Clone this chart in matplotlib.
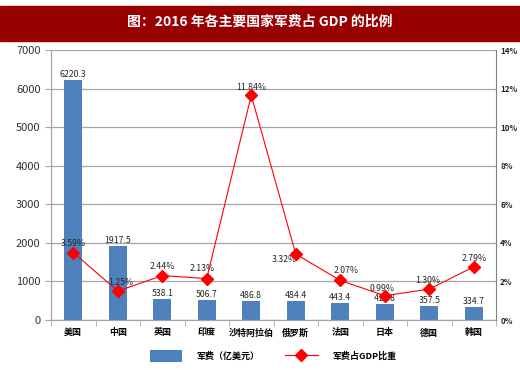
import matplotlib.pyplot as plt
import numpy as np
from matplotlib.patches import Rectangle

plt.rcParams['font.family'] = ['Noto Sans CJK SC', 'DejaVu Sans']

# data
countries = ['美国', '中国', '英国', '印度', '沙特阿拉伯', '俄罗斯', '法国', '日本', '德国', '韩国']
spending = [6220.3, 1917.5, 538.1, 506.7, 486.8, 484.4, 443.4, 416.8, 357.5, 334.7]
gdp_share = [3.50, 1.50, 2.30, 2.15, 11.65, 3.42, 2.05, 1.26, 1.60, 2.76]  # plotted marker heights (%)
gdp_labels = ['3.59%', '1.25%', '2.44%', '2.13%', '11.84%', '3.32%', '2.07%', '0.99%', '1.30%', '2.79%']
left_ticks = [0, 1000, 2000, 3000, 4000, 5000, 6000, 7000]
right_ticks = [0, 2, 4, 6, 8, 10, 12, 14]

# label offsets in pixels (dx, dy) relative to each marker
label_offsets = [(0, 9), (3, 9), (0, 9), (-5, 10), (0, 8), (-11, -5), (6, 10), (-3, 7), (-2, 9), (0, 8)]

W, H = 520, 370
fig = plt.figure(figsize=(W / 100, H / 100), dpi=100)

# title band
fig.patches.append(Rectangle((0, 1 - 41 / H), 1, 35 / H, transform=fig.transFigure,
                             color='#990000', zorder=0))
fig.text(0.5, 1 - 22 / H, '图：2016 年各主要国家军费占 GDP 的比例', color='white',
         fontsize=10, fontweight='bold', ha='center', va='center')

ax = fig.add_axes([51 / W, (H - 320) / H, 445 / W, 270 / H])
x = np.arange(len(countries))
grid_c = '#A6A6A6'

bars = ax.bar(x, spending, width=0.4, color='#4F81BD', zorder=2, label='军费（亿美元）')
for xi, v in zip(x, spending):
    ax.annotate(f'{v:.1f}', (xi, v), xytext=(0, 1), textcoords='offset pixels',
                ha='center', va='bottom', fontsize=6.3, color='#262626', zorder=5)

ax.set_xlim(-0.5, len(countries) - 0.5)
ax.set_ylim(0, 7000)
ax.set_yticks(left_ticks)
ax.set_xticks(x)
ax.set_xticklabels(countries, fontsize=6.5, fontweight='bold')
ax.set_xticks(np.arange(-0.5, len(countries), 1), minor=True)
ax.tick_params(axis='x', which='major', length=0, pad=6)
ax.tick_params(axis='x', which='minor', length=4, color=grid_c, direction='out')
ax.tick_params(axis='y', labelsize=8, colors='#333333', length=4, direction='out')
ax.tick_params(axis='y', color=grid_c)
ax.yaxis.grid(True, color=grid_c, linewidth=0.9, zorder=0)
ax.set_axisbelow(True)
for s in ['top', 'right']:
    ax.spines[s].set_visible(False)
for s in ['left', 'bottom']:
    ax.spines[s].set_color(grid_c)
    ax.spines[s].set_linewidth(0.9)

ax2 = ax.twinx()
line, = ax2.plot(x, gdp_share, color='#FF0000', linewidth=0.8, marker='D', markersize=6,
                 label='军费占GDP比重', zorder=4)
for xi, v, t, (dx, dy) in zip(x, gdp_share, gdp_labels, label_offsets):
    ax2.annotate(t, (xi, v), xytext=(dx, dy), textcoords='offset pixels',
                 ha='center', va='center', fontsize=6.3, color='#262626')
ax2.set_ylim(0, 14)
ax2.set_yticks(right_ticks)
ax2.set_yticklabels([f'{t}%' for t in right_ticks], fontsize=5.8, fontweight='bold', color='#262626')
ax2.tick_params(axis='y', length=0, pad=3)
for s in ['top', 'left', 'bottom']:
    ax2.spines[s].set_visible(False)
ax2.spines['right'].set_color('#808080')

fig.legend(handles=[bars, line], loc='center', bbox_to_anchor=(273 / W, 1 - 356 / H),
           ncol=2, frameon=False, handlelength=3.6, handleheight=1.6,
           columnspacing=2.8, handletextpad=1.6, prop={'weight': 'bold', 'size': 6.5})

fig.savefig('out.png', dpi=100)
